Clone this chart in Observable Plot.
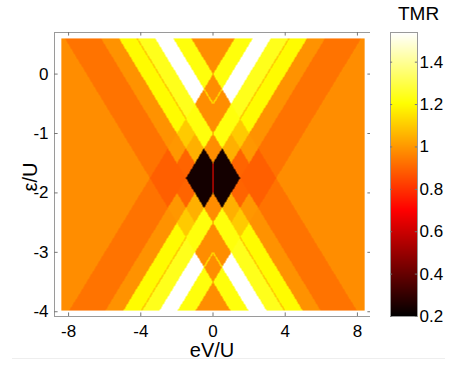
<!DOCTYPE html>
<html><head><meta charset="utf-8">
<script src="https://cdn.jsdelivr.net/npm/d3@7"></script>
<script src="https://cdn.jsdelivr.net/npm/@observablehq/plot@0.6"></script>
<style>
body{margin:0;background:#fff;font-family:"Liberation Sans",Arial,Helvetica,sans-serif;}
#wrap{position:relative;width:450px;height:368px;overflow:hidden;background:#fff;}
#main{position:absolute;left:0;top:0;}
#bar{position:absolute;left:370px;top:0;}
.title{position:absolute;font-size:20px;color:#000;white-space:nowrap;line-height:1;}
#tmr{left:398px;top:4px;font-size:19px;}
#xlab{left:0;width:424px;text-align:center;top:340px;}
#ylab{left:30px;top:177px;transform:translate(-50%,-50%) rotate(-90deg);}
#rule{position:absolute;left:12px;top:358px;width:433px;height:1px;background:#eeeeee;}
</style></head><body>
<div id="wrap">
<div id="main"></div><div id="bar"></div>
<div class="title" id="tmr">TMR</div>
<div class="title" id="xlab">eV/U</div>
<div class="title" id="ylab">ε/U</div>
<div id="rule"></div>
</div>
<script>
// axis ticks
const xTicks = [-8, -4, 0, 4, 8];
const yTicks = [0, -1, -2, -3, -4];
const barTicks = [0.2, 0.4, 0.6, 0.8, 1, 1.2, 1.4];
// extent of the computed map
const biasRange = [-8.4, 8.4];     // eV/U
const levelRange = [-3.98, 0.6];   // ε/U
// transition lines ε ± eV/2 = threshold (in units of U)
const thresholds = [-3.5, -3, -2.5, -2, -1.5, -1, -0.5, 0];
// TMR in each region: row = bin of (ε + eV/2), column = bin of (ε − eV/2)
const tmrTable = [
  [0.98, 1.22, 1.54, 1.24, 1.20, 0.99, 0.93, 0.93, 0.98],
  [1.22, 0.98, 0.98, 1.22, 1.10, 1.00, 0.89, 0.89, 0.93],
  [1.54, 0.98, 0.98, 1.22, 1.05, 0.90, 0.89, 0.89, 0.93],
  [1.24, 1.22, 1.22, 0.98, 0.24, 0.24, 0.90, 1.00, 0.99],
  [1.20, 1.10, 1.05, 0.24, 0.24, 0.24, 1.05, 1.10, 1.20],
  [0.99, 1.00, 0.90, 0.24, 0.24, 0.98, 1.22, 1.22, 1.24],
  [0.93, 0.89, 0.89, 0.90, 1.05, 1.22, 0.98, 0.98, 1.54],
  [0.93, 0.89, 0.89, 1.00, 1.10, 1.22, 0.98, 0.98, 1.22],
  [0.98, 0.93, 0.93, 0.99, 1.20, 1.24, 1.54, 1.22, 0.98]
];
// narrow resonance lines: on threshold "at", while the other variable lies in [from, to]
const lineAt   = [-0.5, -3.0, -1.5, -2.0];
const lineFrom = [-0.5, -3.5,  0.0, -9.0];
const lineTo   = [ 0.0, -3.0,  9.0, -3.5];
const lineTMR  = [ 1.16, 1.16, 1.08, 1.08];
const zeroBiasTMR = 0.72; // V = 0 inside the blockade diamonds
// colour bar (MATLAB "hot")
const tmrDomain = [0.2, 1.54];
const hotStops = [0, 0.375, 0.75, 1];
const hotColors = ["#000000", "#ff0000", "#ffff00", "#ffffff"];

function binOf(s) { let k = 0; while (k < thresholds.length && s > thresholds[k]) k++; return k; }
const HW = 0.02, HV = 0.045;
function tmrAt(v, e) {
  const u = e + v / 2, w = e - v / 2;
  for (let k = 0; k < lineAt.length; k++) {
    if (Math.abs(u - lineAt[k]) < HW && w >= lineFrom[k] && w <= lineTo[k]) return lineTMR[k];
    if (Math.abs(w - lineAt[k]) < HW && u >= lineFrom[k] && u <= lineTo[k]) return lineTMR[k];
  }
  const val = tmrTable[binOf(u)][binOf(w)];
  if (Math.abs(v) < HV && val < 0.5) return zeroBiasTMR;
  return val;
}

const colorDomain = hotStops.map(t => tmrDomain[0] + t * (tmrDomain[1] - tmrDomain[0]));
const colorOpt = {type: "linear", domain: colorDomain, range: hotColors, clamp: true};
const font = {fontFamily: "Liberation Sans, Arial, sans-serif", fontSize: "17px", color: "#000", background: "#fff", overflow: "visible"};

const xDom = [-8.78, 8.78], yDom = [-4.08, 0.70];
const tx = 0.2, ty = 0.06; // tick length in data units
const main = Plot.plot({
  width: 380, height: 368,
  marginLeft: 54, marginRight: 9, marginTop: 32, marginBottom: 52,
  x: {domain: xDom}, y: {domain: yDom},
  color: colorOpt,
  style: font,
  marks: [
    Plot.raster({x1: biasRange[0], x2: biasRange[1], y1: levelRange[1], y2: levelRange[0], fill: (x, y) => tmrAt(x, y), pixelSize: 1}),
    Plot.frame({stroke: "#9a9a9a"}),
    Plot.ruleX(xTicks, {x: d => d, y1: yDom[0], y2: yDom[0] + ty, stroke: "#777"}),
    Plot.ruleX(xTicks, {x: d => d, y1: yDom[1], y2: yDom[1] - ty, stroke: "#777"}),
    Plot.ruleY(yTicks, {y: d => d, x1: xDom[0], x2: xDom[0] + tx, stroke: "#777"}),
    Plot.ruleY(yTicks, {y: d => d, x1: xDom[1], x2: xDom[1] - tx, stroke: "#777"}),
    Plot.axisX(xTicks, {anchor: "bottom", tickSize: 0, tickPadding: 8, tickFormat: d => String(d), label: null, fontSize: 17}),
    Plot.axisY(yTicks, {anchor: "left", tickSize: 0, tickPadding: 6, tickFormat: d => String(d), label: null, fontSize: 17})
  ]
});
document.getElementById("main").appendChild(main);

const bar = Plot.plot({
  width: 80, height: 368,
  marginLeft: 20, marginRight: 33, marginTop: 32, marginBottom: 52,
  x: {domain: [0, 1], axis: null},
  y: {domain: tmrDomain},
  color: colorOpt,
  style: font,
  marks: [
    Plot.raster({x1: 0, x2: 1, y1: tmrDomain[1], y2: tmrDomain[0], fill: (x, y) => y, pixelSize: 1}),
    Plot.frame({stroke: "#9a9a9a"}),
    Plot.ruleY(barTicks, {y: d => d, x1: 0, x2: 0.08, stroke: "#777"}),
    Plot.ruleY(barTicks, {y: d => d, x1: 1, x2: 0.92, stroke: "#777"}),
    Plot.axisY(barTicks, {anchor: "right", tickSize: 0, tickPadding: 2, tickFormat: d => String(d), label: null, fontSize: 17})
  ]
});
document.getElementById("bar").appendChild(bar);
</script>
</body></html>
